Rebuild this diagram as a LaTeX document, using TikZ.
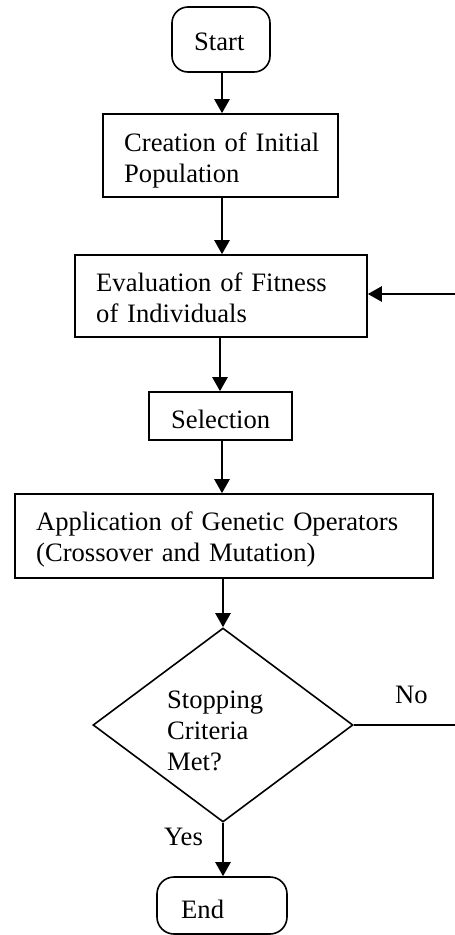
\documentclass[tikz,border=0pt]{standalone}
\usepackage{fontspec}
\setmainfont{Liberation Serif}
\usetikzlibrary{shapes.geometric,arrows.meta}
\tikzset{
  box/.style={draw, line width=1.6pt, inner sep=0pt, rectangle},
  term/.style={draw, line width=1.6pt, inner sep=0pt, rectangle, rounded corners=16pt},
  decision/.style={draw, line width=1.6pt, inner sep=0pt, diamond, minimum width=260pt, minimum height=194pt},
  txt/.style={inner sep=0pt, anchor=base west, align=left, font=\fontsize{26.6}{31}\selectfont},
  flow/.style={line width=2.4pt, -{Triangle[length=14pt,width=15pt]}},
  plain/.style={line width=2.4pt}
}
\begin{document}
\begin{tikzpicture}[x=1pt,y=-1pt]
\useasboundingbox (0,0) rectangle (455,935);
% shapes
\node[term, minimum width=98pt, minimum height=65pt] (start) at (221,39.5) {};
\node[box, minimum width=235pt, minimum height=83pt] (create) at (220.5,155.5) {};
\node[box, minimum width=292pt, minimum height=82pt] (eval) at (221,296) {};
\node[box, minimum width=143pt, minimum height=48pt] (sel) at (220.5,416) {};
\node[box, minimum width=418pt, minimum height=84pt] (app) at (224,536) {};
\node[decision] (dec) at (223,725) {};
\node[term, rounded corners=17pt, minimum width=130pt, minimum height=57pt] (end) at (222,905.5) {};
% texts
\node[txt] (startt) at (194,50.5) {Start};
\node[txt, text width=200pt] (createt) at (124,151) {Creation of Initial\\Population};
\node[txt, text width=250pt] (evalt) at (96,291) {Evaluation of Fitness\\of Individuals};
\node[txt] (selt) at (171,428) {Selection};
\node[txt, text width=380pt] (appt) at (36,530) {Application of Genetic Operators\\(Crossover and Mutation)};
\node[txt, text width=110pt] (dect) at (167,708) {Stopping\\Criteria\\Met?};
\node[txt] (endt) at (181,918) {End};
\node[txt] (yes) at (164,845) {Yes};
\node[txt] (no) at (395,703) {No};
% free ends at the right edge
\coordinate (noend) at (455,725);
\coordinate (fbstart) at (455,294);
% connectors
\draw[flow] (start.south -| 222,0) -- (222,0 |- create.north);
\draw[flow] (create.south -| 222,0) -- (222,0 |- eval.north);
\draw[flow] (eval.south -| 220,0) -- (220,0 |- sel.north);
\draw[flow] (sel.south -| 222,0) -- (222,0 |- app.north);
\draw[flow] (app.south -| dec.north) -- (dec.north);
\draw[flow] (dec.south) -- (dec.south |- end.north);
\draw[line width=1.6pt] (dec.east) -- (noend);
\draw[flow] (fbstart) -- (fbstart -| eval.east);
\end{tikzpicture}
\end{document}
